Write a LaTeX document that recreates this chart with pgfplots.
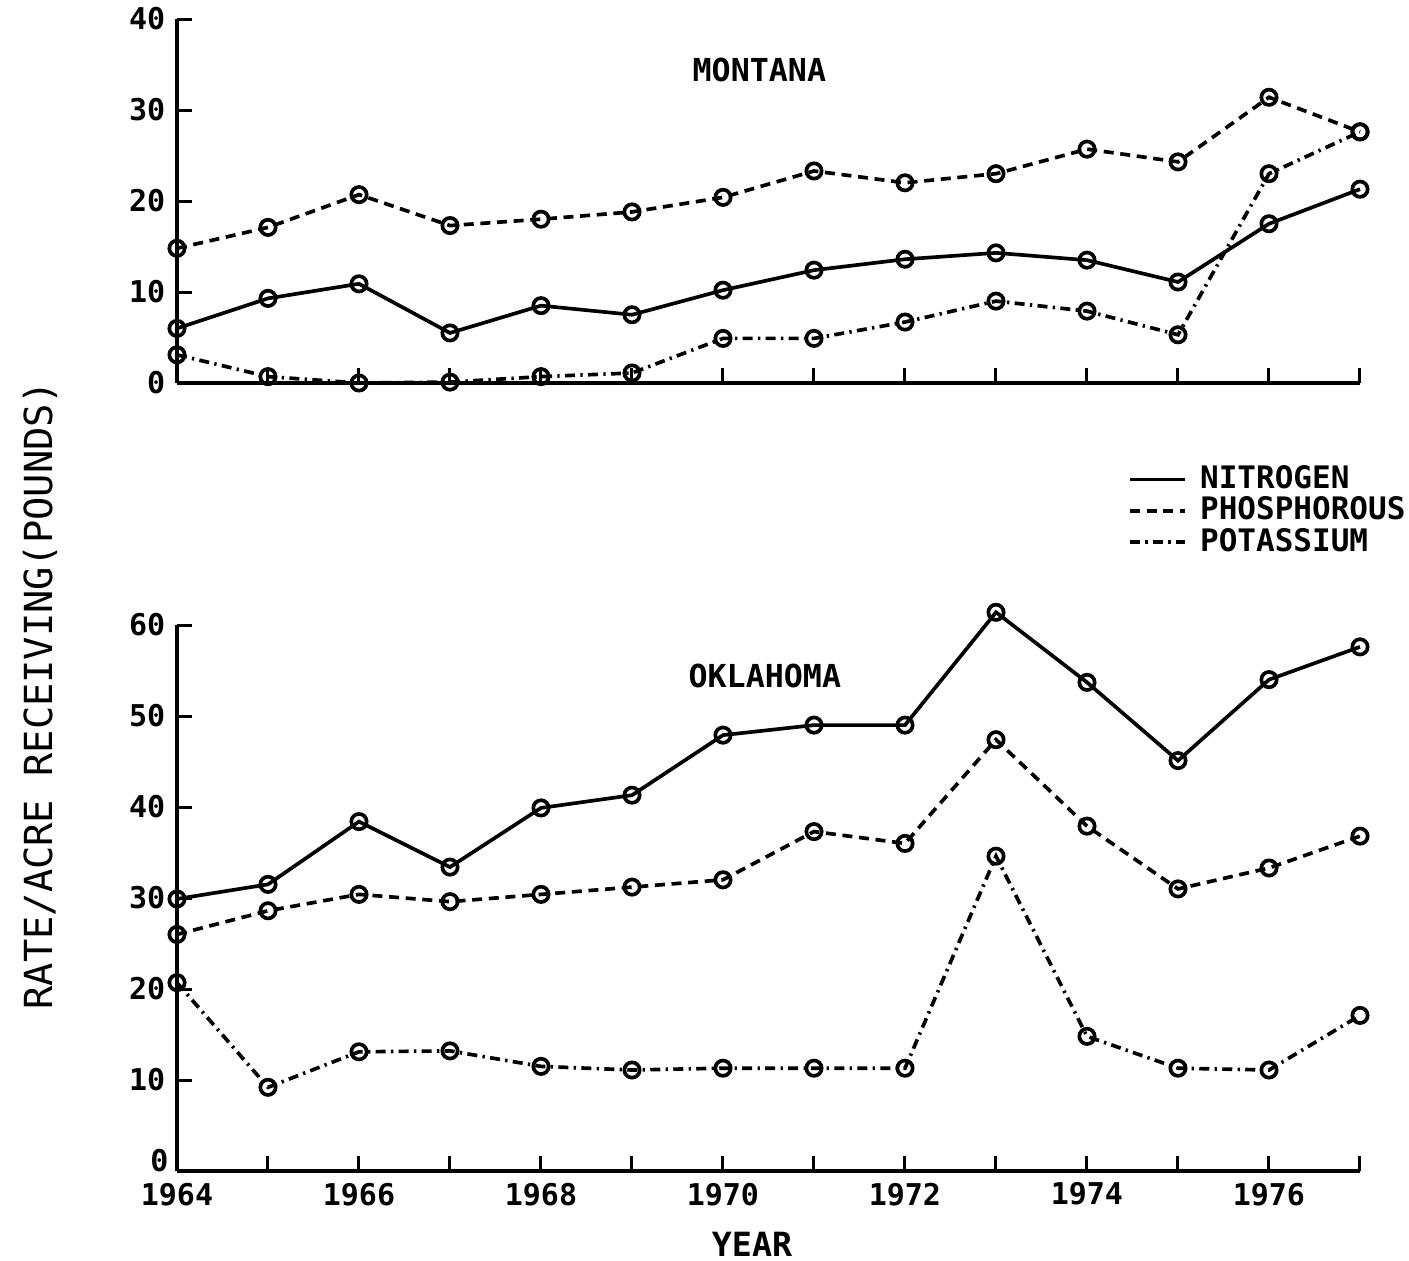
\documentclass[border=0pt]{standalone}
\usepackage{pgfplots}
\pgfplotsset{compat=1.18}
\usepackage{fontspec}
\setmainfont{DejaVu Sans Mono}

% Fertilizer application rates, pounds per acre receiving
\pgfplotstableread{
year  mtN   mtP   mtK   okN   okP   okK
1964  6.0   14.8  3.1   29.9  26.0  20.7
1965  9.3   17.1  0.7   31.5  28.6  9.2
1966  10.9  20.7  0.0   38.4  30.4  13.1
1967  5.5   17.3  0.1   33.4  29.6  13.2
1968  8.5   18.0  0.7   39.9  30.4  11.5
1969  7.5   18.8  1.1   41.3  31.2  11.1
1970  10.2  20.4  4.9   47.9  32.0  11.3
1971  12.4  23.3  4.9   49.0  37.3  11.3
1972  13.6  22.0  6.7   49.0  36.0  11.3
1973  14.3  23.0  9.0   61.4  47.4  34.6
1974  13.5  25.7  7.9   53.7  37.9  14.8
1975  11.1  24.3  5.3   45.1  31.0  11.3
1976  17.5  31.4  23.0  54.0  33.3  11.1
1977  21.3  27.6  27.6  57.6  36.8  17.1
}\fert

\pgfplotsset{
  panel/.style={
    scale only axis, width=354.9pt,
    xmin=1964, xmax=1977,
    axis x line*=bottom, axis y line*=left,
    axis line style={-, line width=1.1pt},
    every tick/.style={black, line width=0.9pt},
    major tick length=4.5pt,
    tick align=inside,
    xtick={1964,...,1977},
    clip=false,
    /pgf/number format/assume math mode=true,
    tick label style={font=\fontsize{9}{10}\selectfont\bfseries},
  },
  nit/.style={black, line width=1.1pt, solid, mark=o, mark size=2.3pt},
  pho/.style={black, line width=1.1pt, dash pattern=on 3pt off 2pt, mark=o, mark size=2.3pt, mark options={solid}},
  pot/.style={black, line width=1.1pt, dash pattern=on 3pt off 1.6pt on 0.7pt off 1.6pt, mark=o, mark size=2.3pt, mark options={solid}},
}

\begin{document}
\begin{tikzpicture}
\useasboundingbox (-53.1pt,-263.1pt) rectangle (369.6pt,114.9pt);

% Montana
\begin{axis}[panel, height=109.2pt, ymin=0, ymax=40, ytick={0,10,20,30,40},
  xticklabels={}]
  \addplot[nit] table[x=year, y=mtN] {\fert};
  \addplot[pho] table[x=year, y=mtP] {\fert};
  \addplot[pot] table[x=year, y=mtK] {\fert};
  \node[font=\fontsize{9.5}{11}\selectfont\bfseries] at (axis cs:1970.4,34.4) {MONTANA};
\end{axis}

% Oklahoma
\begin{axis}[panel, at={(0pt,-236.4pt)}, height=163.8pt, ymin=0, ymax=60,
  ytick={10,20,30,40,50,60},
  extra y ticks={0},
  extra y tick style={yticklabel style={yshift=3pt, xshift=1pt}},
  xticklabels={1964,,1966,,1968,,1970,,1972,,1974,,1976,},
  legend style={draw=none, fill=none, at={(0.795,1.318)}, anchor=north west,
    font=\fontsize{9.3}{10}\selectfont\bfseries, row sep=-3pt,
    legend cell align=left},
  legend image code/.code={\draw[#1] (0pt,0pt) -- (16.5pt,0pt); \path (18.5pt,0pt);}]
  \addplot[nit] table[x=year, y=okN] {\fert};
  \addplot[pho] table[x=year, y=okP] {\fert};
  \addplot[pot] table[x=year, y=okK] {\fert};
  \legend{NITROGEN, PHOSPHOROUS, POTASSIUM}
  \node[font=\fontsize{9.5}{11}\selectfont\bfseries] at (axis cs:1970.46,54.4) {OKLAHOMA};
\end{axis}

\node[rotate=90, font=\fontsize{11.6}{13}\selectfont] at (-41.1pt,-93.6pt) {RATE/ACRE RECEIVING(POUNDS)};
\node[font=\fontsize{10}{12}\selectfont\bfseries] at (172.5pt,-258.3pt) {YEAR};
\end{tikzpicture}
\end{document}
